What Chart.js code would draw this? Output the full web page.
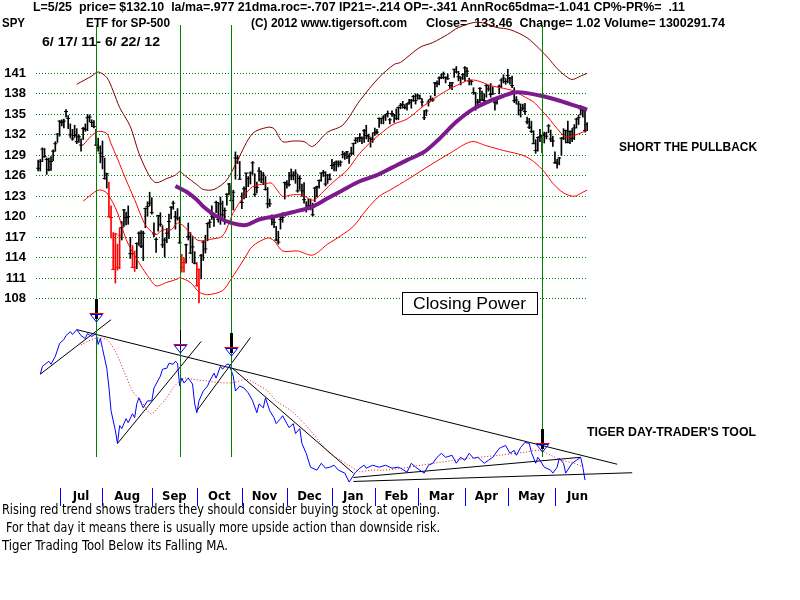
<!DOCTYPE html>
<html>
<head>
<meta charset="utf-8">
<script src="https://cdn.jsdelivr.net/npm/chart.js@4.4.0/dist/chart.umd.min.js"></script>
<style>
  html, body { margin: 0; padding: 0; background: #fff; }
  #wrap { width: 800px; height: 600px; position: relative; }
</style>
</head>
<body>
<div id="wrap"><canvas id="c" width="800" height="600"></canvas></div>
<script>
// SPY daily bars 6/17/11 - 6/22/12, one entry per trading day
const priceTicks = [108, 111, 114, 117, 120, 123, 126, 129, 132, 135, 138, 141];
const months = ['Jul', 'Aug', 'Sep', 'Oct', 'Nov', 'Dec', 'Jan', 'Feb', 'Mar', 'Apr', 'May', 'Jun'];
const monthStart = [10, 30, 53, 74, 95, 116, 137, 157, 177, 199, 219, 241, 262];

const closes = [
  127.1,128.1,129.9,128.8,128.4,126.9,128.1,129.6,130.7,132.1,
  134.0,133.8,134.0,135.4,134.4,132.0,131.4,131.9,131.0,131.7,130.5,132.9,132.8,134.5,134.6,133.8,133.2,130.5,130.1,129.3,
  128.8,125.6,126.3,120.0,119.9,112.3,117.5,112.6,117.3,118.4,121.0,119.9,120.0,114.6,112.6,112.6,116.1,117.6,115.7,117.6,121.2,121.5,122.0,
  120.6,117.5,116.7,120.2,118.9,115.9,116.6,117.6,119.3,121.4,122.0,120.0,119.8,116.2,112.6,113.3,115.9,117.1,114.7,115.6,113.2,
  109.9,112.3,114.3,116.3,115.3,119.0,119.2,120.3,120.0,122.1,119.6,121.9,120.3,120.9,123.3,124.8,122.4,123.6,128.6,128.6,125.5,
  122.1,124.1,126.4,125.6,126.4,127.9,123.3,124.3,126.7,125.5,126.1,124.0,121.9,121.9,119.7,119.2,116.6,116.3,119.6,119.9,125.0,
  124.8,124.7,126.0,126.1,126.4,123.8,125.6,123.8,122.5,121.2,121.6,121.6,120.3,124.2,124.4,125.3,126.4,126.5,124.8,126.1,125.5,
  127.5,127.7,128.0,127.7,128.0,129.1,129.2,129.5,128.8,129.3,130.7,131.2,131.5,131.6,131.5,132.6,131.9,131.8,131.5,131.3,
  132.3,132.4,134.4,134.4,134.6,134.9,135.1,134.2,135.1,134.9,134.4,136.0,136.3,136.4,136.0,136.5,136.7,137.0,137.6,137.0,
  137.7,137.3,136.8,134.5,135.5,136.8,137.2,137.1,139.6,139.5,140.3,140.4,140.9,140.4,140.2,139.2,139.6,141.6,141.2,140.5,140.3,140.8,
  141.8,141.3,139.9,139.8,138.2,135.9,136.8,138.8,137.1,137.0,139.2,138.7,137.9,138.0,136.7,137.2,139.1,140.0,140.3,139.8,
  140.7,140.3,139.2,137.0,137.1,136.5,135.6,135.9,135.4,133.9,133.1,132.5,130.7,129.7,131.6,131.7,131.9,132.1,131.8,133.3,131.4,131.1,
  127.9,127.9,128.6,131.5,131.5,132.6,130.9,132.5,131.5,133.0,134.3,134.5,135.8,135.6,132.6,133.5
];
const highs = [
  128.3,128.4,130.1,130.0,128.6,128.6,128.8,129.8,131.0,132.2,
  134.1,134.2,134.3,135.7,134.8,133.6,132.8,133.4,132.9,132.0,131.4,133.1,133.6,135.0,134.9,134.2,134.1,132.8,131.5,130.4,
  131.1,128.6,126.4,125.1,121.6,117.7,117.6,116.0,118.4,119.3,121.1,120.7,121.6,117.0,115.8,115.0,116.2,117.8,118.0,117.9,121.3,122.2,123.6,
  122.8,119.1,116.9,120.2,120.6,118.7,116.9,118.3,120.4,121.5,122.3,120.8,121.2,120.0,114.5,114.0,116.0,119.1,117.7,117.1,114.9,
  113.3,112.4,114.5,116.4,117.3,119.1,119.6,121.6,120.1,122.3,122.1,122.9,122.3,121.3,123.4,124.9,124.6,123.9,129.5,129.0,128.1,
  123.5,124.4,126.4,125.9,126.6,128.1,126.3,125.1,127.2,126.7,126.5,125.9,124.3,122.6,120.3,120.0,118.6,117.9,120.0,120.6,125.1,
  125.3,126.5,127.0,126.6,126.9,126.2,126.0,124.8,125.0,122.2,122.6,122.6,122.0,124.3,124.5,125.4,126.4,126.8,126.6,126.2,126.3,
  128.4,128.0,128.2,128.2,128.2,129.6,129.4,129.6,129.2,130.2,130.8,131.6,131.6,132.2,131.7,132.8,133.4,132.1,131.6,132.3,
  133.0,132.8,134.5,134.4,134.8,135.0,135.5,134.4,135.5,135.0,135.8,136.1,136.6,136.9,136.4,136.6,137.2,137.2,137.8,138.0,
  138.0,137.8,137.3,135.6,135.7,137.1,137.7,137.4,139.7,139.9,140.5,140.9,141.2,140.5,140.9,139.7,139.7,141.6,142.0,141.3,140.5,141.0,
  142.0,141.8,140.3,140.0,138.9,138.2,137.2,138.9,138.4,138.0,139.4,139.2,139.5,139.0,137.1,137.5,139.3,140.2,140.8,140.2,
  141.6,140.4,140.6,138.9,137.6,136.9,136.5,136.5,136.6,134.6,134.4,134.0,132.6,131.3,131.7,132.8,132.0,132.4,132.4,133.5,132.7,131.8,
  129.5,128.4,128.7,131.6,132.9,132.7,134.0,132.6,132.9,133.5,134.4,134.9,136.3,136.1,135.9,133.8
];
const lows = [
  126.7,126.7,128.1,128.7,126.2,126.7,126.8,128.2,129.6,130.9,
  131.8,133.3,133.0,134.6,132.9,131.6,131.2,131.6,130.7,130.9,129.6,131.3,132.5,132.6,133.9,133.2,133.0,130.4,129.6,127.9,
  127.0,125.5,124.2,120.0,116.9,112.3,110.3,112.2,112.4,116.6,118.6,118.8,118.9,113.9,112.6,112.0,112.4,115.8,115.5,113.6,118.4,120.1,121.6,
  120.4,117.1,114.8,117.9,118.6,115.5,114.1,116.2,116.8,119.7,121.1,118.2,119.5,116.1,111.9,111.9,113.2,116.6,114.6,113.3,113.1,
  109.9,107.4,110.9,113.6,114.7,116.5,118.4,119.6,118.6,120.6,119.2,118.9,119.9,118.9,121.7,123.2,122.3,121.0,125.5,127.8,125.5,
  121.2,122.6,122.8,124.4,124.8,126.2,123.0,123.5,125.2,125.0,124.7,123.9,121.3,121.5,118.8,118.4,116.5,116.0,118.2,119.2,122.6,
  124.2,124.5,125.4,125.4,124.9,123.6,124.0,123.0,122.0,120.7,121.2,121.0,120.1,122.2,122.9,124.2,125.2,125.9,124.5,124.9,125.4,
  127.0,126.7,126.7,127.3,127.4,128.6,128.4,128.5,127.8,129.0,129.1,130.7,130.9,131.0,130.7,130.9,131.4,131.0,130.2,130.9,
  131.9,132.1,133.1,133.6,133.6,134.1,134.6,133.6,134.7,133.8,134.2,134.2,135.8,135.9,135.8,135.6,136.5,135.9,136.9,136.5,
  137.2,137.2,136.2,134.2,134.8,136.2,136.9,136.9,137.7,139.0,139.3,140.2,140.2,139.6,140.1,138.8,138.6,140.4,141.1,139.9,139.3,140.1,
  139.9,140.5,139.3,139.3,137.9,135.6,136.4,136.7,137.0,136.6,137.5,138.4,137.5,137.9,135.6,136.5,138.0,138.9,139.6,139.4,
  139.6,139.4,138.9,136.7,136.5,134.9,134.6,135.6,135.0,133.6,132.9,132.3,130.7,129.3,129.6,131.0,129.4,130.8,131.4,132.3,131.0,130.3,
  127.8,127.1,127.6,129.0,131.3,130.8,130.8,130.7,131.0,131.3,133.0,133.5,134.9,134.6,132.4,132.6
];
const redBars = [33, 34, 35, 36, 37, 38, 44, 45, 67, 68, 74, 75];

// [day, price]
const upperBand = [[18,139.4],[25,140.6],[28,141.2],[32,140.4],[35,138.4],[38,136],[43,133.2],[47,129.3],[52,125.9],[55,125],[60,125.6],[64,126.1],[66,126.6],[69,125.9],[74,124.7],[77,124],[82,124],[88,125.4],[93,128.3],[100,132.2],[107,133.1],[110,132.9],[114,131],[119,131.1],[124,131],[128,130.3],[135,132.4],[142,133.4],[150,137],[159,140.4],[166,142.3],[169,142.6],[178,144.8],[184,145.5],[191,146.7],[196,147.7],[205,148.5],[214,147.7],[220,147.4],[228,146.2],[234,144.5],[238,143.2],[242,141.7],[246,140.6],[249,140.1],[253,140.6],[256,141]];
const midBand = [[21,130.5],[25,131.9],[28,132.5],[32,132.2],[34,130.7],[37,128.5],[41,125.4],[45,122.5],[49,119.4],[51,118.4],[55,117.4],[58,118.1],[62,118.1],[65,119.1],[68,118.6],[72,117.2],[75,116.5],[80,116.7],[86,117.2],[91,120.6],[96,123],[100,124.4],[107,124.9],[109,124.9],[114,123],[118,123.2],[123,123.2],[127,122.5],[129,122.5],[133,123.7],[138,125.2],[144,126.8],[150,129.3],[156,131.2],[163,133],[166,133.6],[172,134.3],[180,136.3],[189,138.2],[195,139.2],[201,140],[205,139.9],[211,139.2],[217,138.8],[222,138.4],[226,137.7],[231,136.8],[235,135.5],[239,134.1],[242,132.9],[246,131.7],[250,131.9],[254,132.4],[256,132.6]];
const lowerBand = [[21,122.3],[28,123.9],[32,123.5],[37,120.6],[41,116.7],[46,113.8],[51,111.4],[55,109.9],[60,110.4],[65,110.9],[66,111.1],[71,110.4],[75,109],[79,108.6],[86,109.2],[90,110.9],[96,113.8],[100,115.7],[107,116.9],[110,116.5],[114,115],[121,115],[128,114.4],[135,116],[141,117.2],[147,118.6],[153,121],[159,123],[164,123.9],[173,125.6],[183,127.6],[192,129.3],[202,131],[209,130.4],[217,129.7],[226,129],[231,128.1],[236,126.6],[240,124.9],[245,123.5],[250,123],[254,123.6],[256,123.9]];
const ma65 = [[64,124.5],[69,123.7],[74,122.5],[77,121.5],[83,120.1],[90,119.1],[97,118.8],[103,119.6],[111,120.1],[119,120.7],[128,121.5],[135,122.7],[142,123.9],[150,125.2],[158,126.1],[165,127.2],[172,128.3],[180,129.5],[187,131.4],[195,133.9],[203,135.8],[211,137],[217,137.7],[222,138.2],[228,138.1],[236,137.6],[242,137.1],[248,136.5],[254,135.9],[256,135.7]];

// Closing Power (Tiger Day-Trader's Tool), [day, value]
const closingPower = [[1,56.5],[2,60.5],[5,63],[6,61.5],[8,65.5],[10,72],[12,74],[13,76],[15,78],[16,76.5],[18,79],[20,76],[22,74.5],[23,77],[25,75.5],[27,77],[28,71.5],[29,74.5],[30,69.5],[32,59.5],[33,50],[34,38],[36,28],[37,21.5],[38,30.5],[39,29],[41,34],[42,32],[44,36.5],[45,34.5],[46,41.5],[47,44.5],[49,39.5],[51,43],[53,43],[54,49.5],[57,55.5],[58,59],[60,59.5],[61,62],[63,61.5],[64,63],[65,62],[66,50.5],[67,54.5],[68,52],[70,54.5],[72,51.5],[73,41.5],[74,37],[75,43],[77,48],[79,50.5],[80,53],[82,57],[83,54.5],[85,60.5],[86,59],[88,61.5],[89,61.5],[91,55.5],[92,48],[94,50.5],[96,49.5],[98,47],[100,43],[102,37],[103,41.5],[105,39.5],[106,44.5],[108,38],[110,34.5],[111,31.5],[113,34],[114,35.5],[116,31.5],[117,29.5],[119,31.5],[120,26.5],[122,29],[123,21.5],[125,16.5],[127,9.5],[130,8],[132,11.5],[134,9],[136,9.5],[138,10.5],[140,8],[143,6.5],[145,2],[148,7],[150,9],[152,10.5],[153,9],[156,10.5],[159,9.5],[162,10.5],[165,9],[168,9.5],[169,9],[172,7],[174,11.5],[176,9.5],[180,6.5],[182,10.5],[184,11.5],[186,14.5],[188,16.5],[190,14.5],[193,15.5],[195,11.5],[197,14.5],[199,13],[201,16.5],[203,14],[205,14.5],[208,11.5],[210,13],[212,14.5],[215,19],[216,19.5],[218,20.5],[220,16.5],[222,18],[223,15.5],[225,19.5],[227,22],[229,21.5],[230,17],[232,11.5],[233,14.5],[234,13],[236,9.5],[239,8],[240,6.5],[242,9.5],[243,14],[245,11.5],[246,6.5],[249,11.5],[251,13],[253,14.5],[254,9.5],[255,3]];
const cpMa = [[20,71.4],[27,74.7],[32,73.9],[36,68],[40,58],[44,48],[48,43],[51,38],[53,36.4],[56,39.7],[60,44.7],[63,49.7],[66,53],[69,54.7],[72,53.9],[79,53],[85,52.2],[91,52.2],[97,53.9],[102,51.4],[107,48],[111,43],[118,38],[122,33.9],[127,28],[132,21.4],[136,16.4],[141,13],[146,9.7],[150,7.2],[155,8],[161,8],[169,8.9],[184,11.4],[200,13.9],[215,15.5],[228,17.2],[234,18],[239,15.5],[243,13.4],[250,11.4],[254,9.7]];
// trendlines [day1, cp1, day2, cp2]
const cpTrends = [[1,56.5,34,84],[37,21.5,76,73],[74,38,99,75],[18,79,270,11],[90,60,147,6.5],[147,2.3,277,6.7],[147,4.3,253,14.5]];

const signalDays = [27, 66, 90, 235];
const signalCp = [83, 67, 65.5, 17];
const signalBold = [true, false, true, true];

const F = '"Liberation Sans", Arial, sans-serif';
const FN = '"Liberation Sans Narrow", "Arial Narrow", "DejaVu Sans Condensed", sans-serif';

const xy = a => a.map(p => ({ x: p[0], y: p[1] }));
const barColors = closes.map((c, i) => redBars.includes(i) ? '#ff0000' : '#000000');

function lineDs(data, color, width, axis, order, extra) {
  return Object.assign({
    type: 'line', data: xy(data), borderColor: color, borderWidth: width,
    pointRadius: 0, yAxisID: axis, order: order, tension: 0.3
  }, extra || {});
}

// text squeezed/stretched to the width it has in the reference
function fitText(ctx, text, x, y, w) {
  const m = ctx.measureText(text).width;
  ctx.save();
  ctx.translate(x, y);
  ctx.scale(w / m, 1);
  ctx.fillText(text, 0, 0);
  ctx.restore();
}

const datasets = [
  lineDs(closingPower, '#0000ff', 1, 'cp', 1, { tension: 0 }),
  lineDs(cpMa, '#ee1111', 1, 'cp', 2, { borderDash: [1, 2] }),
  lineDs(ma65, '#7d1a8c', 4, 'y', 4),
  lineDs(upperBand, '#800000', 1, 'y', 5),
  lineDs(midBand, '#ff0000', 1, 'y', 5),
  lineDs(lowerBand, '#ff0000', 1, 'y', 5),
  {
    type: 'scatter', data: closes.map((c, i) => ({ x: i, y: c })), yAxisID: 'y', order: 8,
    pointStyle: 'line', pointRadius: 2, borderWidth: 1, borderColor: barColors, showLine: false
  },
  {
    type: 'bar', data: highs.map((h, i) => ({ x: i, y: [lows[i], h] })), yAxisID: 'y', order: 9,
    backgroundColor: barColors, barThickness: 1, grouped: false
  }
];
cpTrends.forEach(t => {
  datasets.push(lineDs([[t[0], t[1]], [t[2], t[3]]], '#000000', 1, 'cp', 3, { tension: 0, clip: false }));
});

const decor = {
  id: 'decor',
  beforeDatasetsDraw(chart) {
    const ctx = chart.ctx, sy = chart.scales.y;
    ctx.save();
    ctx.fillStyle = '#000';
    ctx.textBaseline = 'middle';
    ctx.font = 'bold 12px ' + F;
    fitText(ctx, 'L=5/25  price= $132.10  la/ma=.977 21dma.roc=-.707 IP21=-.214 OP=-.341 AnnRoc65dma=-1.041 CP%-PR%=  .11', 33, 8, 652);
    fitText(ctx, 'SPY', 2, 24, 23);
    fitText(ctx, 'ETF for SP-500', 86, 24, 84);
    fitText(ctx, '(C) 2012 www.tigersoft.com', 251, 24, 156);
    fitText(ctx, 'Close=  133.46  Change= 1.02 Volume= 1300291.74', 426, 24, 299);
    fitText(ctx, '6/ 17/ 11- 6/ 22/ 12', 42, 43, 118);

    // price labels
    ctx.font = 'bold 13px ' + F;
    ctx.textAlign = 'right';
    priceTicks.forEach(v => ctx.fillText(String(v), 26, sy.getPixelForValue(v)));
    ctx.restore();
  },
  afterDatasetsDraw(chart) {
    const ctx = chart.ctx, sx = chart.scales.x, scp = chart.scales.cp;
    ctx.save();
    // signal lines
    ctx.strokeStyle = '#008000';
    ctx.lineWidth = 1;
    signalDays.forEach(d => {
      const x = Math.round(sx.getPixelForValue(d)) + 0.5;
      ctx.beginPath(); ctx.moveTo(x, 25); ctx.lineTo(x, 457); ctx.stroke();
    });

    // signal arrows
    signalDays.forEach((d, k) => {
      const x = Math.round(sx.getPixelForValue(d)) + 0.5;
      const tip = Math.round(scp.getPixelForValue(signalCp[k]));
      ctx.strokeStyle = '#000';
      ctx.lineWidth = signalBold[k] ? 3 : 1;
      ctx.beginPath(); ctx.moveTo(x, tip - 23); ctx.lineTo(x, tip - 3); ctx.stroke();
      ctx.lineWidth = 1;
      ctx.strokeStyle = '#ff0000';
      ctx.beginPath(); ctx.moveTo(x - 7, tip - 8.5); ctx.lineTo(x + 7, tip - 8.5); ctx.stroke();
      ctx.strokeStyle = '#0000ff';
      ctx.beginPath(); ctx.moveTo(x - 6, tip - 7.5); ctx.lineTo(x + 6, tip - 7.5); ctx.lineTo(x, tip); ctx.closePath(); ctx.stroke();
    });

    ctx.fillStyle = '#000';
    ctx.textBaseline = 'middle';
    ctx.font = 'bold 12px ' + F;
    fitText(ctx, 'SHORT THE PULLBACK', 619, 148, 138);
    fitText(ctx, "TIGER DAY-TRADER'S TOOL", 587, 433, 169);

    // Closing Power box
    ctx.fillStyle = '#fff';
    ctx.fillRect(403, 293, 134, 21);
    ctx.strokeStyle = '#000';
    ctx.lineWidth = 1;
    ctx.strokeRect(402.5, 292.5, 135, 22);
    ctx.fillStyle = '#000';
    ctx.font = '17px ' + F;
    fitText(ctx, 'Closing Power', 413, 304, 113);

    // month axis
    ctx.strokeStyle = '#0000ff';
    for (let i = 0; i < months.length; i++) {
      const x = Math.round(sx.getPixelForValue(monthStart[i])) + 0.5;
      ctx.beginPath(); ctx.moveTo(x, 488); ctx.lineTo(x, 506); ctx.stroke();
    }
    ctx.font = 'bold 13px ' + FN;
    ctx.textAlign = 'center';
    for (let i = 0; i < months.length; i++) {
      const cx = (sx.getPixelForValue(monthStart[i]) + sx.getPixelForValue(monthStart[i + 1])) / 2;
      ctx.fillText(months[i], cx, 497);
    }
    ctx.textAlign = 'left';

    ctx.font = '14px ' + FN;
    fitText(ctx, 'Rising red trend shows traders they should consider buying stock at opening.', 2, 510, 438);
    fitText(ctx, 'For that day it means there is usually more upside action than downside risk.', 6, 528, 434);
    fitText(ctx, 'Tiger Trading Tool Below its Falling MA.', 2, 546, 226);
    ctx.restore();
  }
};

new Chart(document.getElementById('c'), {
  type: 'line',
  data: { datasets },
  options: {
    responsive: false, animation: false, devicePixelRatio: 1,
    layout: { padding: { left: 36, right: 212, top: 0, bottom: 114 } },
    plugins: { legend: { display: false }, tooltip: { enabled: false } },
    scales: {
      x: { type: 'linear', min: -1, max: 256.4, display: false, offset: false },
      y: {
        type: 'linear', position: 'left', min: 80.6, max: 151,
        afterBuildTicks: s => { s.ticks = priceTicks.map(v => ({ value: v })); },
        afterFit: s => { s.width = 0; },
        ticks: { display: false },
        grid: { color: '#008000', lineWidth: 1, drawTicks: false },
        border: { display: false, dash: [1, 2] }
      },
      cp: { type: 'linear', position: 'right', min: 0, max: 243, display: false }
    }
  },
  plugins: [decor]
});
</script>
</body>
</html>
